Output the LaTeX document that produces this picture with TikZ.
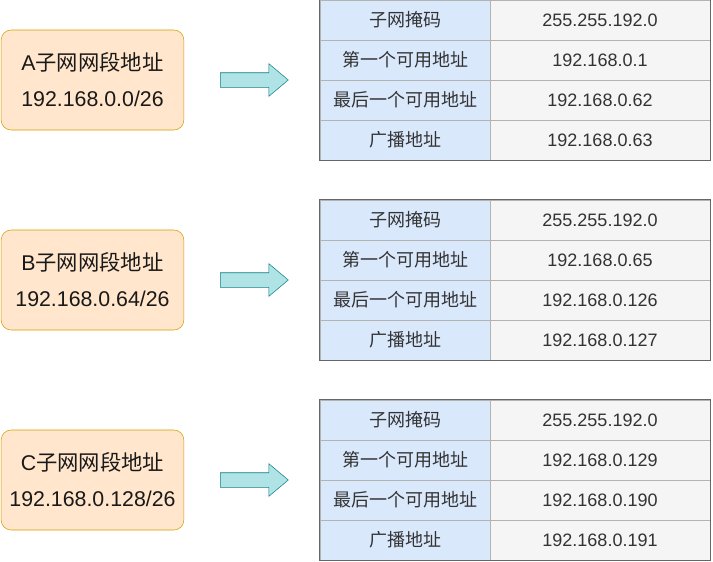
\documentclass[tikz,border=0pt]{standalone}
\usepackage{fontspec}
\setmainfont{Liberation Sans}
\newfontfamily\cjk{Noto Sans CJK SC}
\usepackage{tikz}
\usetikzlibrary{shapes.arrows,positioning}
\usepackage{xcolor}
\definecolor{netfill}{HTML}{FFE6CC}
\definecolor{netline}{HTML}{D79B00}
\definecolor{arrfill}{HTML}{B0E3E6}
\definecolor{arrline}{HTML}{0E8088}
\definecolor{keyfill}{HTML}{DAE8FC}
\definecolor{valfill}{HTML}{F5F5F5}
\definecolor{cellline}{HTML}{B3B3B3}
\definecolor{frameline}{HTML}{666666}
\definecolor{txt}{HTML}{333333}

\begin{document}
\begin{tikzpicture}[x=0.75pt, y=-0.75pt,
  subnet/.style={rectangle, rounded corners=7.5pt, draw=netline, fill=netfill, minimum width=137pt, minimum height=75pt, align=center, text=black!90, font=\fontsize{16}{27}\selectfont},
  goto/.style={single arrow, draw=arrline, fill=arrfill, anchor=tail, minimum height=51pt, single arrow head extend=6.75pt, single arrow tip angle=80, inner xsep=0pt, inner ysep=5.25pt},
  key/.style={rectangle, draw=cellline, fill=keyfill, minimum width=127.5pt, minimum height=30pt, text=txt, font=\cjk\fontsize{13.5}{16}\selectfont},
  val/.style={rectangle, draw=cellline, fill=valfill, minimum width=165pt, minimum height=30pt, text=txt, font=\fontsize{13.5}{16}\selectfont},
  frame/.style={draw=frameline}
]
  \useasboundingbox (0,0) rectangle (713,561);
  % A subnet
  \node[subnet] (neta) at (92.5,80) {A{\cjk 子网网段地址}\\192.168.0.0/26};
  \node[goto] (goa) at (220,80) {};
  \node[key] (ka1) at (405,20) {子网掩码};       \node[val] (va1) at (600,20) {255.255.192.0};
  \node[key] (ka2) at (405,60) {第一个可用地址};   \node[val] (va2) at (600,60) {192.168.0.1};
  \node[key] (ka3) at (405,100) {最后一个可用地址}; \node[val] (va3) at (600,100) {192.168.0.62};
  \node[key] (ka4) at (405,140) {广播地址};       \node[val] (va4) at (600,140) {192.168.0.63};
  \draw[frame] (ka1.north west) rectangle (va4.south east);
  % B subnet
  \node[subnet] (netb) at (92.5,280) {B{\cjk 子网网段地址}\\192.168.0.64/26};
  \node[goto] (gob) at (220,280) {};
  \node[key] (kb1) at (405,220) {子网掩码};       \node[val] (vb1) at (600,220) {255.255.192.0};
  \node[key] (kb2) at (405,260) {第一个可用地址};   \node[val] (vb2) at (600,260) {192.168.0.65};
  \node[key] (kb3) at (405,300) {最后一个可用地址}; \node[val] (vb3) at (600,300) {192.168.0.126};
  \node[key] (kb4) at (405,340) {广播地址};       \node[val] (vb4) at (600,340) {192.168.0.127};
  \draw[frame] (kb1.north west) rectangle (vb4.south east);
  % C subnet
  \node[subnet] (netc) at (92.5,480) {C{\cjk 子网网段地址}\\192.168.0.128/26};
  \node[goto] (goc) at (220,480) {};
  \node[key] (kc1) at (405,420) {子网掩码};       \node[val] (vc1) at (600,420) {255.255.192.0};
  \node[key] (kc2) at (405,460) {第一个可用地址};   \node[val] (vc2) at (600,460) {192.168.0.129};
  \node[key] (kc3) at (405,500) {最后一个可用地址}; \node[val] (vc3) at (600,500) {192.168.0.190};
  \node[key] (kc4) at (405,540) {广播地址};       \node[val] (vc4) at (600,540) {192.168.0.191};
  \draw[frame] (kc1.north west) rectangle (vc4.south east);
\end{tikzpicture}
\end{document}
